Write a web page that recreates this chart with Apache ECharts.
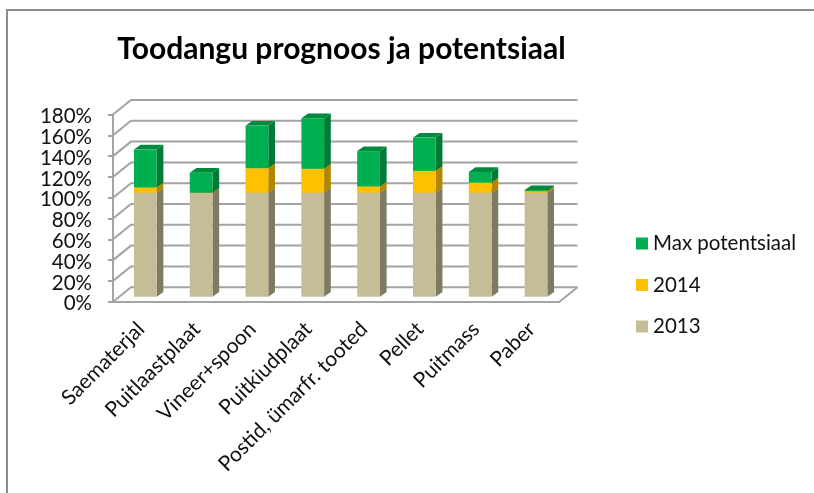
<!DOCTYPE html>
<html><head><meta charset="utf-8">
<style>html,body{margin:0;padding:0;background:#fff}#c{width:814px;height:493px}</style>
<script src="https://cdn.jsdelivr.net/npm/echarts@6/dist/echarts.min.js"></script></head>
<body><div id="c"></div>
<script>
const categories = ['Saematerjal','Puitlaastplaat','Vineer+spoon','Puitkiudplaat','Postid, ümarfr. tooted','Pellet','Puitmass','Paber'];
const v2013 = [100,100,100,100,100,100,100,100];
const v2014 = [5,0,23.5,23,6,21,9.7,1.5];
const vMax  = [36.5,19.3,41,48.6,34,32,10.3,1];
const yTicks = [0,20,40,60,80,100,120,140,160,180];
const FONT = 'Lato';
const GRID = '#a4a4a4';
const WALL = {dx:18, dy:14.5};
const BAR = {dx:6.7, dy:4.7, ox:4.4, oy:-5, w:0.407};

const chart = echarts.init(document.getElementById('c'), null, {renderer:'canvas'});

function wallItem(params, api){
  const v = api.value(0);
  const cs = params.coordSys;
  const y = api.coord([0, v])[1];
  const x0 = cs.x, x1 = cs.x + cs.width;
  const style = {stroke:GRID, lineWidth:2, fill:null};
  const kids = [
    {type:'polyline', shape:{points:[[x0,y],[x0+WALL.dx,y-WALL.dy],[x1+WALL.dx,y-WALL.dy]]}, style},
    {type:'text', style:{text:v+'%', x:x0-21, y:y+2, align:'right', verticalAlign:'middle', fill:'#111', font:'20.5px '+FONT}}
  ];
  if (v === 0) kids.push({type:'line', shape:{x1:x1,y1:y,x2:x1+WALL.dx,y2:y-WALL.dy}, style});
  return {type:'group', children:kids};
}
function barItem(front, side, top){
  return function(params, api){
    const i = api.value(0);
    const bw = api.size([1,0])[0]*BAR.w;
    const a = api.coord([i, api.value(1)]);
    const b = api.coord([i, api.value(2)]);
    const xl = a[0]-bw/2+BAR.ox, xr = xl+bw;
    const yb = a[1]+BAR.oy, yt = b[1]+BAR.oy;
    return {type:'group', children:[
      {type:'polygon', shape:{points:[[xr,yb],[xr+BAR.dx,yb-BAR.dy],[xr+BAR.dx,yt-BAR.dy],[xr,yt]]}, style:{fill:side}},
      {type:'polygon', shape:{points:[[xl,yt],[xr,yt],[xr+BAR.dx,yt-BAR.dy],[xl+BAR.dx,yt-BAR.dy]]}, style:{fill:top}},
      {type:'rect', shape:{x:xl,y:yt,width:bw,height:yb-yt}, style:{fill:front}}
    ]};
  };
}
const base14 = v2013.slice();
const baseMax = v2013.map((v,i)=>v+v2014[i]);
function triple(vals, base){ return vals.map((v,i)=>[i, base[i], base[i]+v]); }

chart.setOption({
  animation:false,
  backgroundColor:'#fff',
  title:{text:'Toodangu prognoos ja potentsiaal', left:341.5, top:34, textAlign:'center', padding:0,
    textStyle:{fontFamily:FONT,fontSize:30,fontWeight:'bold',color:'#000'}},
  legend:{orient:'vertical', left:636, top:233, padding:0, itemWidth:12, itemHeight:12, itemGap:20.5,
    data:['Max potentsiaal','2014','2013'], icon:'rect',
    textStyle:{fontFamily:FONT,fontSize:20.5,color:'#111',lineHeight:20}},
  grid:{left:113, top:114.5, width:446.5, height:187.2, containLabel:false},
  xAxis:{type:'category', data:categories,
    axisLine:{lineStyle:{color:GRID,width:2}},
    axisTick:{length:6,lineStyle:{color:GRID,width:2}},
    axisLabel:{rotate:45,interval:0,margin:24,fontFamily:FONT,fontSize:21,color:'#111'},
    splitLine:{show:false}},
  yAxis:{type:'value',min:0,max:180,interval:20,
    axisLine:{show:true,lineStyle:{color:GRID,width:2}},
    axisTick:{show:true,length:5,lineStyle:{color:GRID,width:2}},
    axisLabel:{show:false},
    splitLine:{show:false}},
  graphic:[{type:'polyline',silent:true,z:-1,shape:{points:[[7,493],[7,10],[814,10]]},style:{stroke:'#8c8c8c',lineWidth:2,fill:null}}],
  series:[
    {type:'custom',name:'walls',z:1,clip:false,silent:true,data:yTicks.map(v=>[v]),encode:{y:0},renderItem:wallItem},
    {type:'custom',name:'2013',z:2,clip:false,itemStyle:{color:'#c4bd97'},data:triple(v2013,v2013.map(()=>0)),encode:{x:0,y:[1,2]},renderItem:barItem('#c4bd97','#7f7b62','#a39d7d')},
    {type:'custom',name:'2014',z:3,clip:false,itemStyle:{color:'#ffc000'},data:triple(v2014,base14),encode:{x:0,y:[1,2]},renderItem:barItem('#ffc000','#b38600','#d9a300')},
    {type:'custom',name:'Max potentsiaal',z:4,clip:false,itemStyle:{color:'#00b050'},data:triple(vMax,baseMax),encode:{x:0,y:[1,2]},renderItem:barItem('#00b050','#007a37','#008a3e')}
  ]
});
</script></body></html>
